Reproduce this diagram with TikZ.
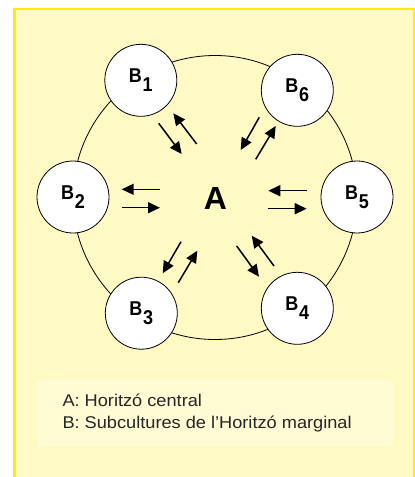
\documentclass[tikz,border=0pt]{standalone}
\usepackage{fontspec}
\setmainfont{Liberation Sans}
\newfontfamily\legendfont[FakeStretch=1.07]{Liberation Sans}
\newfontfamily\labfont[FakeStretch=0.9]{Liberation Sans Bold}
\usetikzlibrary{arrows.meta}
\definecolor{bgyellow}{RGB}{255,249,196}
\definecolor{frameyellow}{RGB}{255,238,0}
\definecolor{legendfill}{RGB}{255,251,212}
\newcommand\blab[1]{B\kern0.8pt\raisebox{-8.5pt}{#1}}
\tikzset{
  bnode/.style={circle, draw=black, line width=0.8pt, fill=white, minimum size=72pt, inner sep=0pt,
    font=\labfont\fontsize{20}{20}\selectfont},
  flow/.style={line width=1.5pt, -{Triangle[length=12pt,width=11pt]}},
  legtext/.style={anchor=base west, inner sep=0pt, font=\legendfont\fontsize{17}{21}\selectfont, text=black!85}
}
\begin{document}
\begin{tikzpicture}[x=1pt,y=-1pt]
\useasboundingbox (0,0) rectangle (415,477);
\begin{scope}
\clip (0,0) rectangle (415,477);
\draw[frameyellow, line width=2.2pt, fill=bgyellow] (14.5,9.3) rectangle (414.2,490);
\end{scope}
\fill[legendfill] (37.3,380) rectangle (393.3,445.7);
\draw[line width=0.8pt] (215,197.5) circle[radius=142];
\node[bnode] (B1) at (140.8,80.3) {\blab{1}};
\node[bnode] (B6) at (297.3,90.3) {\blab{6}};
\node[bnode] (B2) at (73,197) {\blab{2}};
\node[bnode] (B5) at (357,197) {\blab{5}};
\node[bnode] (B3) at (141.3,313.2) {\blab{3}};
\node[bnode] (B4) at (297.3,308.3) {\blab{4}};
\node[font=\fontsize{32}{32}\selectfont\bfseries, inner sep=0pt] (A) at (215.4,198) {A};
% arrow end points
\coordinate (a1) at (160,189.3);   \coordinate (a2) at (121.7,189.3);
\coordinate (a3) at (121.7,207.7); \coordinate (a4) at (160,207.7);
\coordinate (b1) at (306.7,190.7); \coordinate (b2) at (268.3,190.7);
\coordinate (b3) at (268.3,208.7); \coordinate (b4) at (306.7,208.7);
\coordinate (c1) at (158.7,123.3); \coordinate (c2) at (181.7,154);
\coordinate (c3) at (196.7,144);   \coordinate (c4) at (173.3,113.3);
\coordinate (d1) at (259.3,117.3); \coordinate (d2) at (240.7,150);
\coordinate (d3) at (255.7,159.3); \coordinate (d4) at (275.7,126);
\coordinate (e1) at (181,241.7);   \coordinate (e2) at (162.7,273.3);
\coordinate (e3) at (178.3,282.7); \coordinate (e4) at (197.3,250.7);
\coordinate (f1) at (236.7,246);   \coordinate (f2) at (259,276.7);
\coordinate (f3) at (274,266);     \coordinate (f4) at (251.7,235.7);
\draw[flow] (a1) -- (a2); \draw[flow] (a3) -- (a4);
\draw[flow] (b1) -- (b2); \draw[flow] (b3) -- (b4);
\draw[flow] (c1) -- (c2); \draw[flow] (c3) -- (c4);
\draw[flow] (d1) -- (d2); \draw[flow] (d3) -- (d4);
\draw[flow] (e1) -- (e2); \draw[flow] (e3) -- (e4);
\draw[flow] (f1) -- (f2); \draw[flow] (f3) -- (f4);
\node[legtext] (legA) at (62.3,406.7) {A: Horitzó central};
\node[legtext] (legB) at (62.3,428.3) {B: Subcultures de l’Horitzó marginal};
\end{tikzpicture}
\end{document}
